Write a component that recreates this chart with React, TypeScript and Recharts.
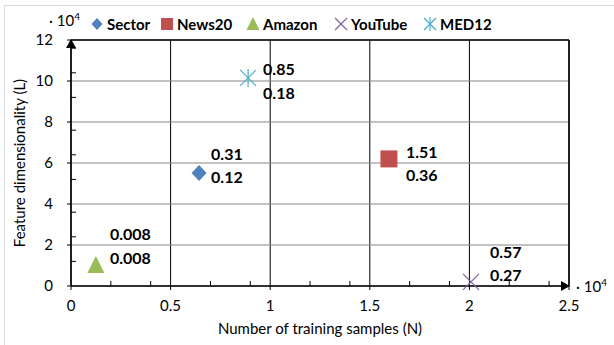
import React from 'react';
import {
  ScatterChart,
  Scatter,
  XAxis,
  YAxis,
  CartesianGrid,
  ReferenceLine,
  ReferenceDot,
} from 'recharts';

const seriesNames = ['Sector', 'News20', 'Amazon', 'YouTube', 'MED12'];
const samplesN = [0.643, 1.596, 0.125, 2.008, 0.889];
const dimsL = [5.51, 6.2, 1.02, 0.2, 10.15];
const topLabels = ['0.31', '1.51', '0.008', '0.57', '0.85'];
const bottomLabels = ['0.12', '0.36', '0.008', '0.27', '0.18'];

const xTicks = [0, 0.5, 1, 1.5, 2, 2.5];
const yTicks = [0, 2, 4, 6, 8, 10, 12];
const xMinorTicks = [
  0.1, 0.2, 0.3, 0.4, 0.6, 0.7, 0.8, 0.9, 1.1, 1.2, 1.3, 1.4,
  1.6, 1.7, 1.8, 1.9, 2.1, 2.2, 2.3, 2.4,
];
const yMinorTicks = [
  0.4, 0.8, 1.2, 1.6, 2.4, 2.8, 3.2, 3.6, 4.4, 4.8, 5.2, 5.6,
  6.4, 6.8, 7.2, 7.6, 8.4, 8.8, 9.2, 9.6, 10.4, 10.8, 11.2, 11.6,
];

const FONT = 'Lato, "Open Sans", sans-serif';

const style: Record<string, { color: string; dx: number; dyTop: number; dyBottom: number }> = {
  Sector:  { color: '#4F81BD', dx: 12, dyTop: -20, dyBottom: 3 },
  News20:  { color: '#C0504D', dx: 17, dyTop: -7, dyBottom: 16 },
  Amazon:  { color: '#9BBB59', dx: 14, dyTop: -32, dyBottom: -8 },
  YouTube: { color: '#8064A2', dx: 19, dyTop: -30, dyBottom: -7 },
  MED12:   { color: '#4BACC6', dx: 15, dyTop: -9, dyBottom: 15 },
};

function Marker({ name, cx, cy, s = 8 }: { name: string; cx: number; cy: number; s?: number }) {
  const c = style[name].color;
  switch (name) {
    case 'Sector':
      return <polygon points={`${cx},${cy - s} ${cx + s - 0.5},${cy} ${cx},${cy + s} ${cx - s + 0.5},${cy}`} fill={c} />;
    case 'News20':
      return <rect x={cx - s - 0.5} y={cy - s - 0.5} width={2 * s + 1} height={2 * s + 1} fill={c} />;
    case 'Amazon':
      return <polygon points={`${cx},${cy - s - 1} ${cx + s + 0.5},${cy + s} ${cx - s - 0.5},${cy + s}`} fill={c} />;
    case 'YouTube':
      return (
        <g stroke={c} strokeWidth={1.2}>
          <line x1={cx - s} y1={cy - s} x2={cx + s} y2={cy + s} />
          <line x1={cx - s} y1={cy + s} x2={cx + s} y2={cy - s} />
        </g>
      );
    default:
      return (
        <g stroke={c} strokeWidth={1.2}>
          <line x1={cx - s} y1={cy - s} x2={cx + s} y2={cy + s} />
          <line x1={cx - s} y1={cy + s} x2={cx + s} y2={cy - s} />
          <line x1={cx} y1={cy - s - 1} x2={cx} y2={cy + s + 1} />
        </g>
      );
  }
}

const makeShape = (name: string) => (props: any) => {
  const { cx, cy, payload } = props;
  const st = style[name];
  return (
    <g>
      <Marker name={name} cx={cx} cy={cy} />
      <g fontFamily={FONT} fontWeight={700} fontSize={16} fill="#000">
        <text x={cx + st.dx} y={cy + st.dyTop} dominantBaseline="central">{payload.top}</text>
        <text x={cx + st.dx} y={cy + st.dyBottom} dominantBaseline="central">{payload.bottom}</text>
      </g>
    </g>
  );
};

const YTitle = (props: any) => {
  const vb = props.viewBox || { y: 40, height: 246 };
  const cx = 19;
  const cy = vb.y + vb.height / 2;
  return (
    <text x={cx} y={cy} transform={`rotate(-90 ${cx} ${cy})`} textAnchor="middle"
      dominantBaseline="central" fontFamily={FONT} fontSize={15} fill="#000">
      Feature dimensionality (L)
    </text>
  );
};

const XTitle = (props: any) => {
  const vb = props.viewBox || { x: 71, width: 498 };
  return (
    <text x={vb.x + vb.width / 2} y={328} textAnchor="middle" dominantBaseline="central"
      fontFamily={FONT} fontSize={15} fill="#000">
      Number of training samples (N)
    </text>
  );
};

const UpArrow = (p: any) => (
  <polygon points={`${p.cx},${p.cy - 1} ${p.cx + 5},${p.cy + 8} ${p.cx - 5},${p.cy + 8}`} fill="#000" />
);
const RightArrow = (p: any) => (
  <polygon points={`${p.cx + 1},${p.cy} ${p.cx - 8},${p.cy - 5} ${p.cx - 8},${p.cy + 5}`} fill="#000" />
);

function LegendIcon({ name }: { name: string }) {
  return (
    <svg width={14} height={14} style={{ marginRight: 3 }}>
      <Marker name={name} cx={7} cy={7} s={name === 'News20' ? 5.5 : 6} />
    </svg>
  );
}

const legendX = [90, 160, 246, 334, 423];

const MinorTickX = (p: any) => (
  <line x1={p.x} x2={p.x} y1={286} y2={281} stroke="#000" strokeWidth={1} />
);
const MinorTickY = (p: any) => (
  <line x1={71} x2={76} y1={p.y} y2={p.y} stroke="#000" strokeWidth={1} />
);

export default function App() {
  const tickStyle = { fill: '#000', fontSize: 15, fontFamily: FONT };
  return (
    <div style={{ position: 'fixed', left: 0, top: 0, width: 614, height: 345, background: '#fff', overflow: 'hidden' }}>
      <div style={{ position: 'absolute', left: 4, top: 5, width: 640, height: 380, border: '1px solid #d9d9d9' }} />
      <ScatterChart width={614} height={345} margin={{ top: 40, right: 45, bottom: 29, left: 11 }}
        style={{ position: 'absolute', left: 0, top: 0 }}>
        <CartesianGrid horizontal={false} stroke="#000" strokeWidth={1} />
        <CartesianGrid vertical={false} stroke="#868686" strokeWidth={1.2} />
        <XAxis type="number" dataKey="x" domain={[0, 2.5]} ticks={xTicks} height={30}
          tickFormatter={(v: number) => String(v)} tick={tickStyle} tickSize={4} tickMargin={10}
          axisLine={{ stroke: '#000', strokeWidth: 1.5 }} tickLine={{ stroke: '#000' }}
          label={<XTitle />} />
        <XAxis xAxisId="minor" type="number" dataKey="x" domain={[0, 2.5]} ticks={xMinorTicks} mirror
          tick={MinorTickX} tickLine={false} axisLine={false} allowDataOverflow />
        <YAxis type="number" dataKey="y" domain={[0, 12]} ticks={yTicks} width={60}
          tick={tickStyle} tickSize={4} tickMargin={14}
          axisLine={{ stroke: '#000', strokeWidth: 1.5 }} tickLine={{ stroke: '#000' }}
          label={<YTitle />} />
        <YAxis yAxisId="minor" type="number" dataKey="y" domain={[0, 12]} ticks={yMinorTicks} mirror
          tick={MinorTickY} tickLine={false} axisLine={false} allowDataOverflow />
        <Scatter xAxisId="minor" yAxisId="minor" data={[]} isAnimationActive={false} legendType="none" />
        <ReferenceLine y={12} stroke="#000" strokeWidth={1.5} />
        <ReferenceLine x={2.5} stroke="#000" strokeWidth={1.5} />
        {seriesNames.map((name, i) => (
          <Scatter key={name} name={name}
            data={[{ x: samplesN[i], y: dimsL[i], top: topLabels[i], bottom: bottomLabels[i] }]}
            shape={makeShape(name)} isAnimationActive={false} />
        ))}
        <ReferenceDot x={0} y={12} r={0} ifOverflow="visible" shape={UpArrow} />
        <ReferenceDot x={2.5} y={0} r={0} ifOverflow="visible" shape={RightArrow} />
      </ScatterChart>
      {seriesNames.map((name, i) => (
        <div key={name} style={{
          position: 'absolute', left: legendX[i], top: 14, display: 'flex', alignItems: 'center',
          fontFamily: FONT, fontWeight: 700, fontSize: 15, color: '#000', lineHeight: '20px',
        }}>
          <LegendIcon name={name} />
          {name}
        </div>
      ))}
      <div style={{ position: 'absolute', left: 49, top: 10, fontFamily: FONT, fontSize: 15, color: '#000' }}>
        · 10<sup style={{ fontSize: 10 }}>4</sup>
      </div>
      <div style={{ position: 'absolute', left: 576, top: 276, fontFamily: FONT, fontSize: 15, color: '#000' }}>
        · 10<sup style={{ fontSize: 10 }}>4</sup>
      </div>
    </div>
  );
}
